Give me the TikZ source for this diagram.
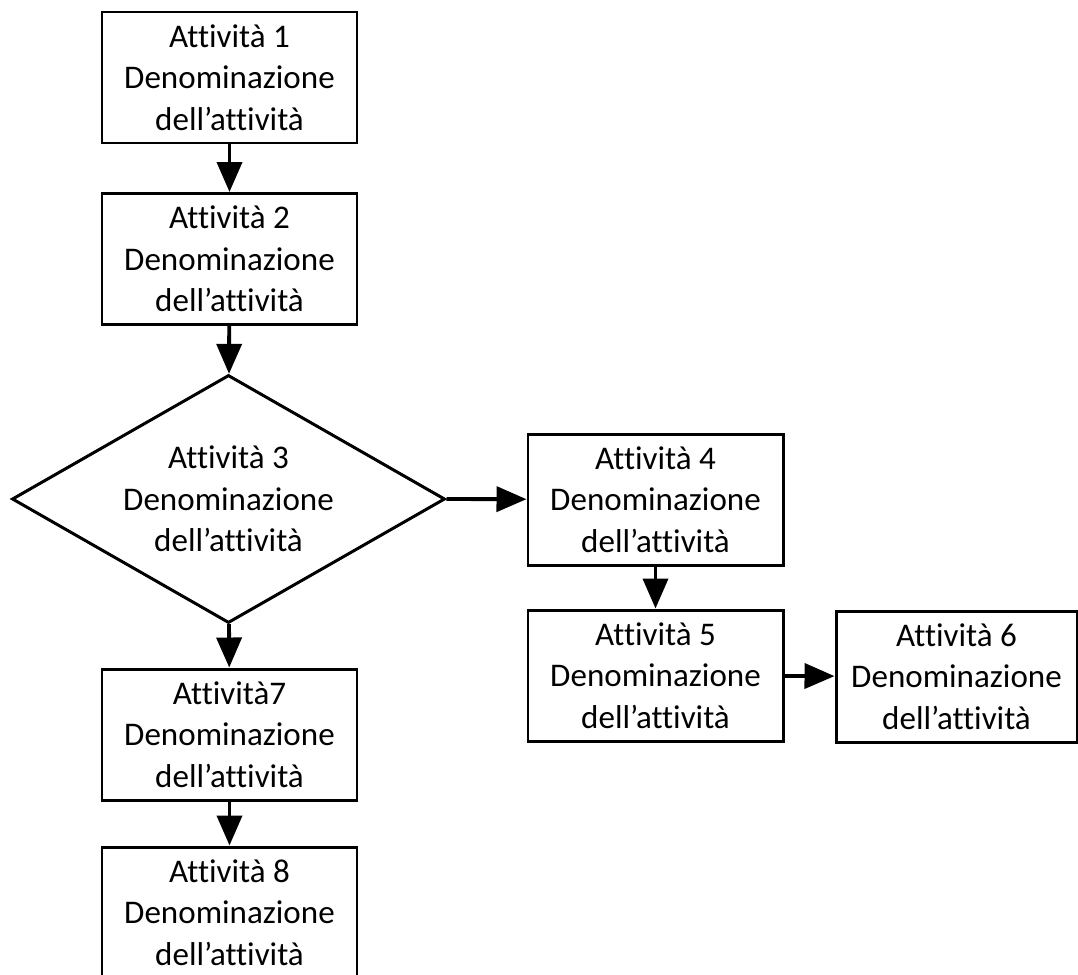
\documentclass[tikz,border=0pt]{standalone}
\usepackage{fontspec}
\setmainfont{Carlito}[Ligatures={NoCommon}]
\usepackage{tikz}
\usetikzlibrary{shapes.geometric, arrows.meta, positioning}
\tikzset{
    process/.style={rectangle, minimum width=5.1cm, minimum height=2.62cm,
        text centered, draw=black, line width=1.7pt, align=center, inner sep=0pt,
        font=\fontsize{18.8}{23.6}\selectfont},
    decision/.style={diamond, aspect=1.746, minimum width=8.66cm, minimum height=4.96cm,
        text centered, draw=black, line width=1.7pt, align=center, inner sep=0pt,
        font=\fontsize{18.8}{23.6}\selectfont},
    arrow/.style={line width=2.2pt, -{Triangle[length=0.6cm,width=0.5cm]}}
}
\begin{document}
\begin{tikzpicture}
\useasboundingbox (0,0) rectangle (21.56,-19.48);
\node[process] (att1) at (4.59,-1.55)  {Attività 1\\Denominazione\\dell’attività};
\node[process] (att2) at (4.59,-5.18)  {Attività 2\\Denominazione\\dell’attività};
\node[decision] (att3) at (4.57,-9.98) {Attività 3\\Denominazione\\dell’attività};
\node[process] (att4) at (13.11,-9.99) {Attività 4\\Denominazione\\dell’attività};
\node[process] (att5) at (13.11,-13.51) {Attività 5\\Denominazione\\dell’attività};
\node[process, minimum width=4.82cm] (att6) at (19.13,-13.53) {Attività 6\\Denominazione\\dell’attività};
\node[process] (att7) at (4.59,-14.69) {Attività7\\Denominazione\\dell’attività};
\node[process] (att8) at (4.59,-18.25) {Attività 8\\Denominazione\\dell’attività};
\draw[arrow] (att1) -- (att2);
\draw[arrow] (att2) -- (att3);
\draw[arrow] (att3.east) -- (att4);
\draw[arrow] (att4) -- (att5);
\draw[arrow] (att5) -- (att6);
\draw[arrow] (att3) -- (att7);
\draw[arrow] (att7) -- (att8);
\end{tikzpicture}
\end{document}
